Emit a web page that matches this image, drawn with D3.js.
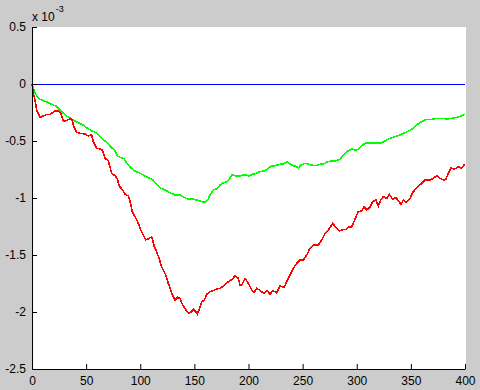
<!DOCTYPE html>
<html>
<head>
<meta charset="utf-8">
<script src="https://cdn.jsdelivr.net/npm/d3@7"></script>
<style>
  html, body { margin: 0; padding: 0; background: #cccccc; }
  svg { display: block; }
  text { font-family: "Liberation Sans", Arial, sans-serif; }
</style>
</head>
<body>
<svg id="chart" width="480" height="390"></svg>
<script>
// ---- data (values in units of 1e-3) ----
const xTicks = [0, 50, 100, 150, 200, 250, 300, 350, 400];
const yTicks = [-2.5, -2, -1.5, -1, -0.5, 0, 0.5];
const blueSeries = [[0, 0], [400, 0]];
const redSeries = [
  [0,0],[1.2,-0.079],[2.8,-0.140],[4.3,-0.228],[7.4,-0.292],[10.4,-0.281],[13.6,-0.266],[16.6,-0.266],
  [18.2,-0.257],[21.2,-0.237],[24.3,-0.234],[26.5,-0.257],[28.9,-0.322],[31.4,-0.322],[34.5,-0.307],
  [36.7,-0.310],[38.8,-0.375],[41.3,-0.424],[44.3,-0.432],[49.0,-0.439],[52.0,-0.456],[55.2,-0.447],
  [56.6,-0.506],[59.8,-0.564],[63.5,-0.570],[65.3,-0.585],[67.4,-0.652],[70.5,-0.673],[73.6,-0.783],
  [76.7,-0.804],[78.8,-0.833],[80.6,-0.895],[83.8,-0.930],[85.9,-0.965],[89.0,-0.982],[90.5,-1.026],
  [92.7,-1.120],[95.2,-1.164],[98.2,-1.222],[100.7,-1.287],[102.8,-1.325],[105.0,-1.368],[107.4,-1.360],
  [110.6,-1.339],[113.0,-1.427],[115.2,-1.471],[117.3,-1.529],[119.8,-1.603],[122.9,-1.661],[125.9,-1.748],
  [129.1,-1.836],[132.1,-1.895],[134.6,-1.871],[136.7,-1.880],[138.3,-1.924],[141.3,-1.968],[144.4,-2.011],
  [147.5,-1.997],[149.0,-1.976],[151.2,-1.997],[152.7,-2.018],[154.3,-1.982],[156.8,-1.910],[159.2,-1.895],
  [161.4,-1.845],[164.4,-1.822],[167.5,-1.813],[170.6,-1.798],[173.7,-1.792],[176.7,-1.772],[179.9,-1.743],
  [182.9,-1.725],[186.0,-1.704],[187.5,-1.680],[190.6,-1.704],[192.1,-1.763],[193.7,-1.763],[196.8,-1.704],
  [199.8,-1.748],[203.0,-1.807],[205.1,-1.831],[207.6,-1.792],[212.2,-1.822],[214.6,-1.836],[217.4,-1.813],
  [219.9,-1.845],[222.4,-1.813],[226.1,-1.831],[229.1,-1.772],[233.1,-1.783],[235.3,-1.734],[238.3,-1.675],
  [241.4,-1.617],[244.5,-1.573],[247.6,-1.544],[250.6,-1.544],[253.8,-1.500],[256.8,-1.441],[259.9,-1.412],
  [264.5,-1.412],[267.6,-1.368],[270.7,-1.310],[273.7,-1.281],[277.8,-1.222],[280.8,-1.261],[283.9,-1.289],
  [287.6,-1.275],[290.1,-1.275],[293.1,-1.252],[295.3,-1.252],[298.4,-1.187],[301.4,-1.120],[304.6,-1.114],
  [306.7,-1.076],[309.2,-1.105],[312.2,-1.082],[314.7,-1.032],[317.8,-1.018],[319.9,-1.070],[322.1,-1.018],
  [324.5,-0.989],[327.7,-1.003],[330.1,-0.968],[333.2,-1.011],[336.3,-0.994],[338.4,-1.026],[340.9,-1.053],
  [343.0,-1.018],[345.5,-1.041],[349.2,-1.003],[352.2,-0.945],[355.9,-0.906],[360.0,-0.871],[363.0,-0.842],
  [367.7,-0.842],[370.7,-0.827],[373.9,-0.804],[376.9,-0.827],[380.0,-0.842],[382.4,-0.836],[384.6,-0.783],
  [387.1,-0.734],[390.1,-0.748],[393.8,-0.725],[396.9,-0.739],[399.1,-0.711],[400,-0.704]
];
const greenSeries = [
  [0,0],[0.9,-0.026],[2.8,-0.082],[5.8,-0.123],[7.4,-0.134],[10.4,-0.146],[15.1,-0.164],[18.2,-0.178],
  [22.2,-0.193],[25.2,-0.222],[28.4,-0.252],[32.1,-0.281],[35.1,-0.296],[38.8,-0.322],[42.8,-0.339],
  [47.4,-0.360],[51.1,-0.389],[55.2,-0.410],[59.1,-0.427],[62.2,-0.456],[65.9,-0.491],[69.6,-0.515],
  [72.7,-0.550],[76.7,-0.585],[78.8,-0.632],[81.9,-0.646],[85.0,-0.654],[87.5,-0.696],[91.2,-0.734],
  [95.2,-0.763],[99.8,-0.783],[102.8,-0.798],[107.4,-0.822],[111.1,-0.836],[114.5,-0.871],[118.2,-0.910],
  [122.9,-0.930],[127.5,-0.954],[132.1,-0.974],[136.7,-0.974],[140.4,-0.994],[144.4,-1.011],[149.0,-1.011],
  [152.7,-1.018],[156.8,-1.032],[159.8,-1.038],[162.3,-1.018],[164.4,-0.974],[167.5,-0.930],[171.2,-0.915],
  [173.7,-0.886],[176.7,-0.866],[179.9,-0.857],[182.9,-0.827],[185.0,-0.794],[188.5,-0.807],[192.1,-0.807],
  [195.2,-0.798],[198.3,-0.798],[200.7,-0.810],[203.0,-0.792],[207.6,-0.783],[210.6,-0.769],[215.2,-0.761],
  [218.3,-0.739],[221.4,-0.719],[224.5,-0.717],[229.1,-0.704],[232.1,-0.704],[235.3,-0.682],[238.3,-0.702],
  [241.4,-0.717],[244.5,-0.725],[246.0,-0.737],[248.5,-0.711],[252.2,-0.696],[255.2,-0.702],[258.4,-0.711],
  [262.4,-0.717],[266.1,-0.704],[269.1,-0.704],[272.8,-0.682],[276.9,-0.675],[279.9,-0.675],[284.5,-0.662],
  [287.6,-0.623],[290.7,-0.594],[295.3,-0.570],[298.4,-0.579],[301.4,-0.573],[304.6,-0.544],[307.6,-0.520],
  [312.2,-0.520],[315.3,-0.520],[318.4,-0.515],[323.0,-0.515],[327.7,-0.491],[330.7,-0.476],[335.3,-0.462],
  [339.9,-0.447],[344.6,-0.427],[348.5,-0.410],[352.2,-0.389],[355.4,-0.360],[358.4,-0.339],[361.5,-0.322],
  [364.6,-0.310],[369.2,-0.310],[373.9,-0.301],[378.5,-0.301],[383.1,-0.307],[387.7,-0.301],[392.4,-0.292],
  [396.9,-0.278],[400,-0.266]
];

// ---- layout ----
const svg = d3.select("#chart");
const mLeft = 32, mRight = 465, mTop = 27, mBottom = 369;
const x = d3.scaleLinear().domain([0, 400]).range([mLeft, mRight]);
const y = d3.scaleLinear().domain([-2.5, 0.5]).range([mBottom, mTop]);

svg.append("rect").attr("width", 480).attr("height", 390).attr("fill", "#cccccc");
svg.append("rect").attr("x", mLeft).attr("y", mTop)
  .attr("width", mRight - mLeft + 1).attr("height", mBottom - mTop)
  .attr("fill", "#ffffff");

const line = d3.line().x(d => x(d[0])).y(d => y(d[1]));

svg.append("path").datum(blueSeries).attr("d", line)
  .attr("fill", "none").attr("stroke", "#0000ff").attr("stroke-width", 1)
  .attr("shape-rendering", "crispEdges");
svg.append("path").datum(greenSeries).attr("d", line)
  .attr("fill", "none").attr("stroke", "#00ff00").attr("stroke-width", 1.6)
  .attr("stroke-linejoin", "miter").attr("shape-rendering", "crispEdges");
svg.append("path").datum(redSeries).attr("d", line)
  .attr("fill", "none").attr("stroke", "#ff0000").attr("stroke-width", 1.6)
  .attr("stroke-linejoin", "miter").attr("shape-rendering", "crispEdges");

const yAxis = d3.axisLeft(y).tickValues(yTicks).tickSizeInner(-5).tickSizeOuter(0)
  .tickPadding(6).tickFormat(d => String(d));
const xAxis = d3.axisBottom(x).tickValues(xTicks).tickSizeInner(-5).tickSizeOuter(0)
  .tickPadding(7).tickFormat(d => String(d));

const gy = svg.append("g").attr("transform", `translate(${mLeft},0)`).call(yAxis);
const gx = svg.append("g").attr("transform", `translate(0,${mBottom})`).call(xAxis);
[gx, gy].forEach(g => {
  g.selectAll("path.domain").attr("stroke", "#000").attr("stroke-width", 1);
  g.selectAll(".tick line").attr("stroke", "#000").attr("stroke-width", 1);
  g.selectAll("text").attr("fill", "#000").attr("font-size", 12)
    .attr("font-family", "'Liberation Sans', Arial, sans-serif");
});

// exponent label
const exp = svg.append("text").attr("x", 32).attr("y", 21)
  .attr("font-size", 12).attr("fill", "#000");
exp.append("tspan").text("x 10");
exp.append("tspan").attr("font-size", 9).attr("dy", -9).attr("dx", 1).text("-3");
</script>
</body>
</html>
